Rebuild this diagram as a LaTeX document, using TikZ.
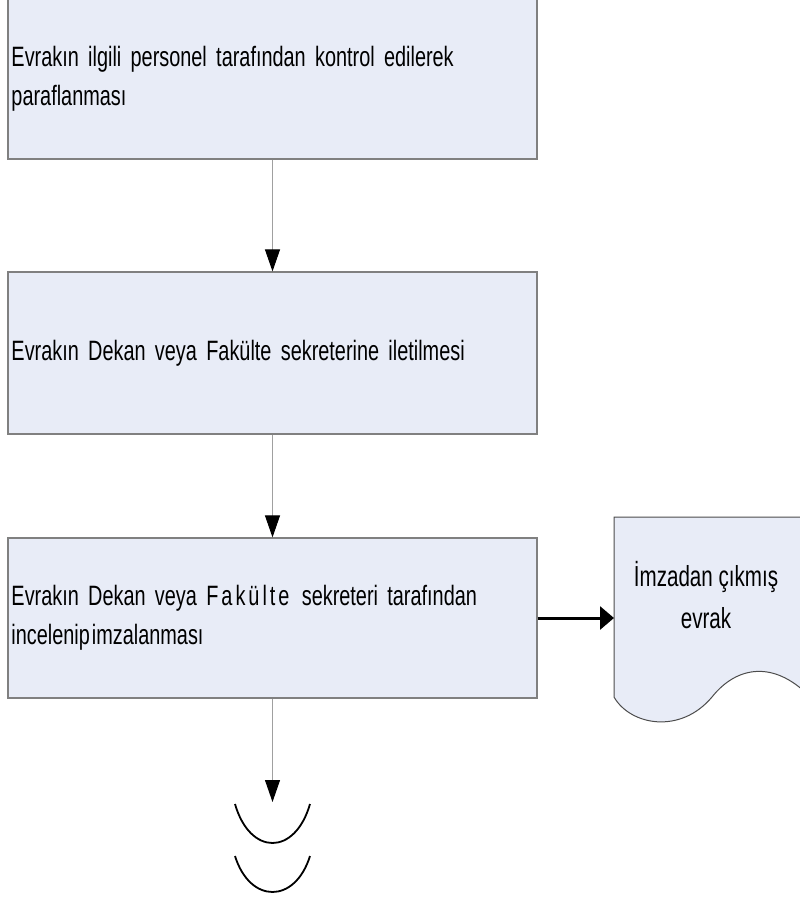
\documentclass[tikz,border=0pt]{standalone}
\usepackage{fontspec}
\setmainfont{Liberation Sans}[FakeStretch=0.71]
\usetikzlibrary{arrows.meta}

\definecolor{boxfill}{HTML}{E8ECF7}
\definecolor{boxline}{HTML}{808080}
\definecolor{flowline}{HTML}{A0A0A0}

\begin{document}
\begin{tikzpicture}[x=1pt, y=-1pt,
    stepbox/.style={rectangle, draw=boxline, line width=1.2pt, fill=boxfill,
      minimum width=529pt, minimum height=160pt, inner xsep=3.5pt,
      text width=522pt, align=left, font=\fontsize{28}{39}\selectfont},
    flow/.style={draw=flowline, line width=1pt,
      -{Triangle[length=22pt, width=15pt, color=black]}},
    output/.style={draw=black, line width=3pt,
      -{Triangle[length=14pt, width=23pt, color=black]}}
    ]
    \useasboundingbox (0,0) rectangle (800,897);

    \node[stepbox] (b1) at (272.5,79) {Evrakın ilgili personel tarafından kontrol edilerek\\paraflanması};
    \node[stepbox, minimum height=162pt] (b2) at (272.5,353) {Evrakın Dekan veya Fakülte sekreterine iletilmesi};
    \node[stepbox] (b3) at (272.5,618) {Evrakın Dekan veya F\kern3pt a\kern3pt k\kern3pt ü\kern3pt l\kern3pt t\kern3pt e\kern3pt\ sekreteri tarafından\\incelenip\kern2pt imzalanması};

    % document shape
    \filldraw[fill=boxfill, draw=black!70, line width=1pt]
      (614,517) -- (805,517) -- (805,692)
      .. controls (770,660) and (735,668) .. (712,697)
      .. controls (680,735) and (630,725) .. (614,697) -- cycle;
    \node[align=center, font=\fontsize{29}{42}\selectfont] (doc) at (706,595) {İmzadan çıkmış\\evrak};
    \coordinate (docin) at (614,618);

    % connectors
    \draw[flow] (b1.south) -- (b2.north);
    \draw[flow] (b2.south) -- (b3.north);
    \coordinate (cont) at (272.5,802);
    \draw[flow] (b3.south) -- (cont);
    \draw[output] (b3.east) -- (docin);

    % continuation marks
    \draw[line width=1.8pt] (235,804) .. controls (250,856) and (295,856) .. (310,804);
    \draw[line width=1.8pt] (235,856) .. controls (250,904) and (295,904) .. (310,856);
  \end{tikzpicture}
\end{document}
